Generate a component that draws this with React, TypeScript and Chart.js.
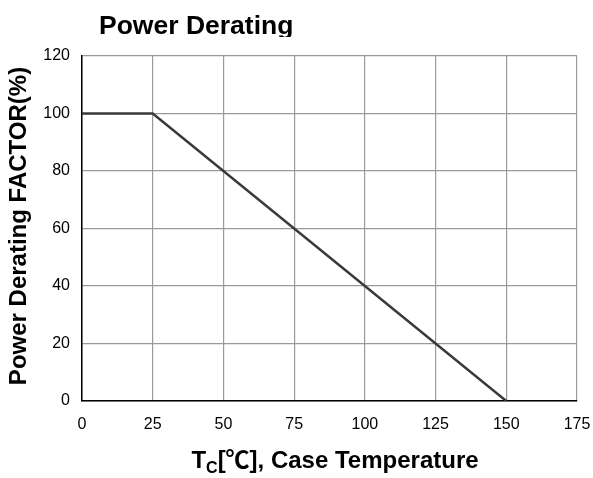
import React, { useEffect, useRef } from "react";
import { Chart, registerables } from "chart.js";

Chart.register(...registerables);

const temperatures = [0, 25, 150];
const deratingFactor = [100, 100, 0];
const xTickStep = 25;
const yTickStep = 20;
const xMax = 175;
const yMax = 120;
const chartTitle = "Power Derating";
const yTitle = "Power Derating FACTOR(%)";
const xTitleMain = "T";
const xTitleSub = "C";
const xTitleRest = "[\u2103], Case Temperature";

const FONT = "'Liberation Sans', Arial, 'Noto Sans CJK JP', 'DejaVu Sans', sans-serif";

const textPlugin = {
  id: "textPlugin",
  afterDraw(chart: any) {
    const ctx = chart.ctx as CanvasRenderingContext2D;
    ctx.save();
    ctx.fillStyle = "#000";
    // Title (clipped at bottom like reference)
    ctx.save();
    ctx.beginPath();
    ctx.rect(0, 0, chart.width, 37);
    ctx.clip();
    ctx.font = `bold 26.5px ${FONT}`;
    ctx.textAlign = "left";
    ctx.textBaseline = "alphabetic";
    ctx.fillText(chartTitle, 99, 34);
    ctx.restore();

    // Y title
    ctx.save();
    ctx.translate(19, 226);
    ctx.rotate(-Math.PI / 2);
    ctx.font = `bold 24px ${FONT}`;
    ctx.textAlign = "center";
    ctx.textBaseline = "middle";
    ctx.fillText(yTitle, 0, 0);
    ctx.restore();

    // X title with subscript
    const big = `bold 24px ${FONT}`;
    const small = `bold 16px ${FONT}`;
    ctx.textAlign = "left";
    ctx.textBaseline = "alphabetic";
    ctx.font = big;
    const w1 = ctx.measureText(xTitleMain).width;
    const w3 = ctx.measureText(xTitleRest).width;
    ctx.font = small;
    const w2 = ctx.measureText(xTitleSub).width;
    const total = w1 + w2 + w3;
    let x = 335 - total / 2;
    const base = 468;
    ctx.font = big;
    ctx.fillText(xTitleMain, x, base);
    x += w1;
    ctx.font = small;
    ctx.fillText(xTitleSub, x, base + 5);
    x += w2;
    ctx.font = big;
    ctx.fillText(xTitleRest, x, base);
    ctx.restore();
  },
};

export default function App() {
  const canvasRef = useRef<HTMLCanvasElement | null>(null);

  useEffect(() => {
    document.body.style.margin = "0";
    const canvas = canvasRef.current;
    if (!canvas) return;
    const chart = new Chart(canvas, {
      type: "line",
      data: {
        datasets: [
          {
            data: temperatures.map((t, i) => ({ x: t, y: deratingFactor[i] })),
            borderColor: "#3a3a3a",
            borderWidth: 2.5,
            pointRadius: 0,
            fill: false,
            tension: 0,
          },
        ],
      },
      options: {
        animation: false,
        responsive: false,
        maintainAspectRatio: false,
        devicePixelRatio: 1,
        layout: { padding: { top: 56, right: 16, left: 0, bottom: 0 } },
        plugins: {
          legend: { display: false },
          tooltip: { enabled: false },
          title: { display: false },
        },
        scales: {
          x: {
            type: "linear",
            min: 0,
            max: xMax,
            ticks: {
              stepSize: xTickStep,
              color: "#000",
              font: { family: FONT, size: 16 },
              padding: 14,
              maxRotation: 0,
            },
            grid: { color: "#9a9a9a", lineWidth: 1.2, drawTicks: false },
            border: { color: "#000", width: 1.5 },
            afterFit: (s: any) => {
              s.height = 77;
              s.paddingLeft = 0;
              s.paddingRight = 0;
            },
          },
          y: {
            min: 0,
            max: yMax,
            ticks: {
              stepSize: yTickStep,
              color: "#000",
              font: { family: FONT, size: 16 },
              padding: 12,
            },
            grid: { color: "#9a9a9a", lineWidth: 1.2, drawTicks: false },
            border: { color: "#000", width: 1.5 },
            afterFit: (s: any) => {
              s.width = 82;
              s.paddingTop = 0;
              s.paddingBottom = 0;
            },
          },
        },
      },
      plugins: [textPlugin],
    });
    return () => chart.destroy();
  }, []);

  return (
    <div style={{ width: 593, height: 478, background: "#fff" }}>
      <canvas ref={canvasRef} width={593} height={478} style={{ width: 593, height: 478, display: "block" }} />
    </div>
  );
}
